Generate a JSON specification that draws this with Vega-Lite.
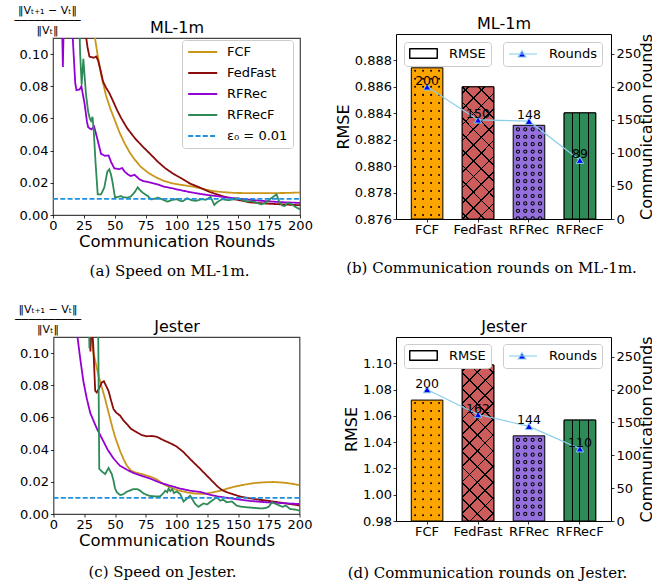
{
"$schema": "https://vega.github.io/schema/vega-lite/v6.json",
"background": "white",
"padding": {"left": 13, "top": 3, "right": 0, "bottom": 0},
"autosize": {"type": "pad"},
"config": {
  "font": "DejaVu Sans",
  "view": {"stroke": "black", "strokeWidth": 1},
  "axis": {"grid": false, "domain": false, "tickColor": "black", "tickSize": 3, "tickWidth": 0.8, "labelFontSize": 13, "labelColor": "black", "labelFont": "DejaVu Sans", "titleFont": "DejaVu Sans", "titleFontSize": 16, "titleFontWeight": "normal", "titleColor": "black", "labelPadding": 2, "titlePadding": 3},
  "title": {"font": "DejaVu Serif", "fontSize": 15, "fontWeight": "normal", "color": "black", "orient": "bottom", "anchor": "middle", "frame": "group"},
  "legend": {"labelFont": "DejaVu Sans", "labelFontSize": 13, "labelColor": "black"}
},
"bounds": "flush",
"center": true,
"columns": 2,
"spacing": {"row": 118, "column": 96},
"concat": [
{
 "title": {"text": "(a) Speed on ML-1m.", "offset": 14, "dx": -7},
 "width": 247, "height": 177,
 "view": {"stroke": "#444", "strokeWidth": 1.2},
 "data": {"values": [
{"model":"FCF","round":30,"speed":0.14},{"model":"FCF","round":33,"speed":0.115},{"model":"FCF","round":36,"speed":0.1},{"model":"FCF","round":39,"speed":0.087},{"model":"FCF","round":43,"speed":0.074},{"model":"FCF","round":46.5,"speed":0.066},{"model":"FCF","round":50,"speed":0.059},{"model":"FCF","round":54,"speed":0.051},{"model":"FCF","round":58,"speed":0.0445},{"model":"FCF","round":62,"speed":0.039},{"model":"FCF","round":66,"speed":0.0346},{"model":"FCF","round":71,"speed":0.03},{"model":"FCF","round":77,"speed":0.0263},{"model":"FCF","round":84,"speed":0.0232},{"model":"FCF","round":90,"speed":0.0211},{"model":"FCF","round":97,"speed":0.0196},{"model":"FCF","round":104,"speed":0.0187},{"model":"FCF","round":112,"speed":0.0178},{"model":"FCF","round":120,"speed":0.0165},{"model":"FCF","round":127,"speed":0.0152},{"model":"FCF","round":135,"speed":0.0144},{"model":"FCF","round":147,"speed":0.0137},{"model":"FCF","round":160,"speed":0.0136},{"model":"FCF","round":175,"speed":0.0136},{"model":"FCF","round":190,"speed":0.0137},{"model":"FCF","round":200,"speed":0.014},
{"model":"FedFast","round":26,"speed":0.115},{"model":"FedFast","round":28,"speed":0.104},{"model":"FedFast","round":29.5,"speed":0.0985},{"model":"FedFast","round":33,"speed":0.0977},{"model":"FedFast","round":35,"speed":0.0985},{"model":"FedFast","round":36.5,"speed":0.096},{"model":"FedFast","round":38.5,"speed":0.09},{"model":"FedFast","round":40.5,"speed":0.083},{"model":"FedFast","round":43,"speed":0.079},{"model":"FedFast","round":45.5,"speed":0.076},{"model":"FedFast","round":48.5,"speed":0.071},{"model":"FedFast","round":52,"speed":0.065},{"model":"FedFast","round":55,"speed":0.0605},{"model":"FedFast","round":60,"speed":0.054},{"model":"FedFast","round":66,"speed":0.048},{"model":"FedFast","round":72,"speed":0.043},{"model":"FedFast","round":79,"speed":0.0377},{"model":"FedFast","round":85,"speed":0.033},{"model":"FedFast","round":91,"speed":0.029},{"model":"FedFast","round":98,"speed":0.0253},{"model":"FedFast","round":104,"speed":0.0228},{"model":"FedFast","round":111,"speed":0.0195},{"model":"FedFast","round":118.5,"speed":0.0172},{"model":"FedFast","round":127,"speed":0.0143},{"model":"FedFast","round":137,"speed":0.0118},{"model":"FedFast","round":147,"speed":0.0098},{"model":"FedFast","round":160,"speed":0.0078},{"model":"FedFast","round":175,"speed":0.007},{"model":"FedFast","round":188,"speed":0.0065},{"model":"FedFast","round":200,"speed":0.0061},
{"model":"RFRec","round":6.5,"speed":0.15},{"model":"RFRec","round":8,"speed":0.092},{"model":"RFRec","round":9.5,"speed":0.15},{"model":"RFRec","round":14,"speed":0.15},{"model":"RFRec","round":16,"speed":0.11},{"model":"RFRec","round":18,"speed":0.082},{"model":"RFRec","round":19,"speed":0.0776},{"model":"RFRec","round":21.5,"speed":0.078},{"model":"RFRec","round":23,"speed":0.08},{"model":"RFRec","round":25.6,"speed":0.069},{"model":"RFRec","round":27.5,"speed":0.058},{"model":"RFRec","round":28.5,"speed":0.0545},{"model":"RFRec","round":31,"speed":0.0532},{"model":"RFRec","round":33.3,"speed":0.055},{"model":"RFRec","round":36,"speed":0.047},{"model":"RFRec","round":38.9,"speed":0.038},{"model":"RFRec","round":42,"speed":0.0368},{"model":"RFRec","round":45,"speed":0.037},{"model":"RFRec","round":47,"speed":0.033},{"model":"RFRec","round":49.6,"speed":0.029},{"model":"RFRec","round":53.7,"speed":0.0285},{"model":"RFRec","round":56,"speed":0.0292},{"model":"RFRec","round":58,"speed":0.027},{"model":"RFRec","round":60.5,"speed":0.0253},{"model":"RFRec","round":63,"speed":0.0242},{"model":"RFRec","round":66,"speed":0.025},{"model":"RFRec","round":70,"speed":0.0222},{"model":"RFRec","round":73,"speed":0.0211},{"model":"RFRec","round":77,"speed":0.0205},{"model":"RFRec","round":84,"speed":0.0192},{"model":"RFRec","round":90,"speed":0.0176},{"model":"RFRec","round":97,"speed":0.0165},{"model":"RFRec","round":104,"speed":0.0153},{"model":"RFRec","round":111,"speed":0.0142},{"model":"RFRec","round":118.5,"speed":0.0132},{"model":"RFRec","round":126,"speed":0.0123},{"model":"RFRec","round":133,"speed":0.0117},{"model":"RFRec","round":140,"speed":0.011},{"model":"RFRec","round":147,"speed":0.0104},{"model":"RFRec","round":160,"speed":0.0094},{"model":"RFRec","round":174,"speed":0.0085},{"model":"RFRec","round":187,"speed":0.0079},{"model":"RFRec","round":200,"speed":0.0075},
{"model":"RFRecF","round":20.5,"speed":0.14},{"model":"RFRecF","round":22,"speed":0.1},{"model":"RFRecF","round":23.2,"speed":0.081},{"model":"RFRecF","round":24.6,"speed":0.097},{"model":"RFRecF","round":26.7,"speed":0.075},{"model":"RFRecF","round":28.5,"speed":0.064},{"model":"RFRecF","round":29.8,"speed":0.06},{"model":"RFRecF","round":30.8,"speed":0.0584},{"model":"RFRecF","round":32,"speed":0.061},{"model":"RFRecF","round":33,"speed":0.052},{"model":"RFRecF","round":34.5,"speed":0.032},{"model":"RFRecF","round":36.2,"speed":0.0128},{"model":"RFRecF","round":38.9,"speed":0.0128},{"model":"RFRecF","round":41.5,"speed":0.017},{"model":"RFRecF","round":44,"speed":0.027},{"model":"RFRecF","round":45.6,"speed":0.0284},{"model":"RFRecF","round":47,"speed":0.025},{"model":"RFRecF","round":48.3,"speed":0.02},{"model":"RFRecF","round":50.2,"speed":0.0108},{"model":"RFRecF","round":52,"speed":0.0112},{"model":"RFRecF","round":55,"speed":0.0118},{"model":"RFRecF","round":57,"speed":0.011},{"model":"RFRecF","round":60.4,"speed":0.0108},{"model":"RFRecF","round":63,"speed":0.0115},{"model":"RFRecF","round":66,"speed":0.014},{"model":"RFRecF","round":68.6,"speed":0.0172},{"model":"RFRecF","round":70,"speed":0.0158},{"model":"RFRecF","round":72.6,"speed":0.0139},{"model":"RFRecF","round":76.7,"speed":0.0118},{"model":"RFRecF","round":79.4,"speed":0.0097},{"model":"RFRecF","round":82,"speed":0.01},{"model":"RFRecF","round":85,"speed":0.0108},{"model":"RFRecF","round":89,"speed":0.0095},{"model":"RFRecF","round":92.8,"speed":0.0083},{"model":"RFRecF","round":96,"speed":0.0092},{"model":"RFRecF","round":100,"speed":0.0099},{"model":"RFRecF","round":103,"speed":0.0088},{"model":"RFRecF","round":105,"speed":0.0085},{"model":"RFRecF","round":108.6,"speed":0.0104},{"model":"RFRecF","round":112,"speed":0.0092},{"model":"RFRecF","round":116,"speed":0.0088},{"model":"RFRecF","round":120,"speed":0.0098},{"model":"RFRecF","round":124,"speed":0.0095},{"model":"RFRecF","round":127.4,"speed":0.0112},{"model":"RFRecF","round":129.3,"speed":0.0085},{"model":"RFRecF","round":130.6,"speed":0.0062},{"model":"RFRecF","round":133,"speed":0.008},{"model":"RFRecF","round":137,"speed":0.0098},{"model":"RFRecF","round":142,"speed":0.0092},{"model":"RFRecF","round":147,"speed":0.0098},{"model":"RFRecF","round":150,"speed":0.0105},{"model":"RFRecF","round":153,"speed":0.0094},{"model":"RFRecF","round":156,"speed":0.0085},{"model":"RFRecF","round":160,"speed":0.0085},{"model":"RFRecF","round":164,"speed":0.008},{"model":"RFRecF","round":168.4,"speed":0.0066},{"model":"RFRecF","round":172,"speed":0.0075},{"model":"RFRecF","round":176,"speed":0.01},{"model":"RFRecF","round":179.2,"speed":0.0118},{"model":"RFRecF","round":181,"speed":0.0128},{"model":"RFRecF","round":183,"speed":0.0085},{"model":"RFRecF","round":185.5,"speed":0.006},{"model":"RFRecF","round":187.6,"speed":0.0056},{"model":"RFRecF","round":190,"speed":0.0075},{"model":"RFRecF","round":193,"speed":0.0068},{"model":"RFRecF","round":196,"speed":0.0052},{"model":"RFRecF","round":200,"speed":0.0035},
{"model":"ε₀ = 0.01","round":0,"speed":0.01},{"model":"ε₀ = 0.01","round":200,"speed":0.01}
 ]},
 "encoding": {
  "y": {"field": "speed", "type": "quantitative", "scale": {"domain": [0, 0.11], "nice": false}, "axis": {"values": [0,0.02,0.04,0.06,0.08,0.1], "format": ".2f", "title": ["‖Vₜ₊₁ − Vₜ‖", "──────────", "‖Vₜ‖"], "titleAngle": 0, "titleAlign": "center", "titleBaseline": "top", "titleX": -6, "titleY": -34, "titleFontSize": 11, "titleLineHeight": 10}},
  "color": {"field": "model", "type": "nominal", "scale": {"domain": ["FCF","FedFast","RFRec","RFRecF","ε₀ = 0.01"], "range": ["#c9961a","#8b0a0a","#9400d3","#2e8b57","#1f90e0"]}, "legend": {"orient": "none", "legendX": 129, "legendY": 6, "title": null, "symbolType": "M-1,0H4", "symbolSize": 135, "symbolStrokeWidth": 2, "labelOffset": 26, "labelFontSize": 13, "rowPadding": 7, "padding": 5, "fillColor": "white", "strokeColor": "#cccccc", "cornerRadius": 3}},
  "strokeDash": {"field": "model", "type": "nominal", "scale": {"domain": ["FCF","FedFast","RFRec","RFRecF","ε₀ = 0.01"], "range": [[1,0],[1,0],[1,0],[1,0],[5,2.3]]}, "legend": {"orient": "none", "legendX": 129, "legendY": 6, "title": null, "symbolType": "M-1,0H4", "symbolSize": 135, "symbolStrokeWidth": 2, "labelOffset": 26, "labelFontSize": 13, "rowPadding": 7, "padding": 5, "fillColor": "white", "strokeColor": "#cccccc", "cornerRadius": 3}}
 },
 "layer": [
  {"transform": [{"filter": "datum.model !== 'ε₀ = 0.01'"}], "mark": {"type": "line", "clip": true, "strokeWidth": 1.8},
   "encoding": {"x": {"field": "round", "type": "quantitative", "scale": {"domain": [0, 200], "nice": false}, "axis": {"values": [0,25,50,75,100,125,150,175,200], "title": "Communication Rounds", "titleFontSize": 16.5, "titlePadding": 1, "labelFlush": false, "labelPadding": 1}}}},
  {"transform": [{"filter": "datum.model === 'ε₀ = 0.01'"}], "mark": {"type": "line", "clip": true, "strokeWidth": 1.6},
   "encoding": {"x": {"field": "round", "type": "quantitative", "scale": {"domain": [0, 200], "nice": false}, "axis": {"orient": "top", "title": "ML-1m", "labels": false, "ticks": false, "domain": false, "titlePadding": 3}}}}
 ],
 "resolve": {"axis": {"x": "independent"}}
},
{
 "title": {"text": "(b) Communication rounds on ML-1m.", "offset": 25, "dx": -12},
 "width": 215, "height": 185,
 "data": {"values": [
  {"model": "FCF", "rmse": 0.88744, "rounds": 200},
  {"model": "FedFast", "rmse": 0.886, "rounds": 150},
  {"model": "RFRec", "rmse": 0.88309, "rounds": 148},
  {"model": "RFRecF", "rmse": 0.88403, "rounds": 89}
 ]},
 "layer": [
  {"encoding": {
    "x": {"field": "model", "type": "nominal", "sort": null, "scale": {"paddingInner": 0.38, "paddingOuter": 0.3}, "axis": {"title": null, "labelAngle": 0, "labelPadding": 1}},
    "y": {"field": "rmse", "type": "quantitative", "scale": {"domain": [0.876, 0.89], "nice": false, "zero": false}, "axis": {"title": "RMSE", "values": [0.876,0.878,0.88,0.882,0.884,0.886,0.888], "format": ".3f", "titlePadding": 3, "labelPadding": 1.5}}, "y2": {"datum": 0.876}},
   "layer": [
    {"mark": {"type": "bar", "strokeWidth": 1}, "encoding": {
      "fill": {"field": "model", "type": "nominal", "scale": {"domain": ["FCF","FedFast","RFRec","RFRecF"], "range": ["#ffa500","#cd5c5c","#9370db","#2e8b57"]}, "legend": null},
      "stroke": {"datum": "RMSE", "scale": {"range": ["black"]}, "legend": {"orient": "none", "legendX": 8, "legendY": 8, "title": null, "symbolType": "M-1,-0.833H3.667V0.833H-1Z M-0.92,-0.753V0.753H3.587V-0.753Z", "symbolSize": 144, "symbolStrokeWidth": 1, "labelOffset": 27, "labelFontSize": 13, "padding": 5, "fillColor": "white", "strokeColor": "#cccccc", "cornerRadius": 3}}
    }},
    {"transform": [{"filter": "datum.model === 'FCF'"}], "mark": {"type": "rule", "xOffset": -12, "color": "black", "strokeWidth": 2, "strokeCap": "round", "strokeDash": [0.01, 8], "strokeDashOffset": 5}},
    {"transform": [{"filter": "datum.model === 'FCF'"}], "mark": {"type": "rule", "xOffset": -4, "color": "black", "strokeWidth": 2, "strokeCap": "round", "strokeDash": [0.01, 8], "strokeDashOffset": 5}},
    {"transform": [{"filter": "datum.model === 'FCF'"}], "mark": {"type": "rule", "xOffset": 4, "color": "black", "strokeWidth": 2, "strokeCap": "round", "strokeDash": [0.01, 8], "strokeDashOffset": 5}},
    {"transform": [{"filter": "datum.model === 'FCF'"}], "mark": {"type": "rule", "xOffset": 12, "color": "black", "strokeWidth": 2, "strokeCap": "round", "strokeDash": [0.01, 8], "strokeDashOffset": 5}},
    {"transform": [{"filter": "datum.model === 'RFRec'"}], "mark": {"type": "rule", "xOffset": -11, "color": "black", "strokeWidth": 4.2, "strokeCap": "round", "strokeDash": [0.01, 7.4], "strokeDashOffset": 3.4}},
    {"transform": [{"filter": "datum.model === 'RFRec'"}], "mark": {"type": "rule", "xOffset": -3.7, "color": "black", "strokeWidth": 4.2, "strokeCap": "round", "strokeDash": [0.01, 7.4], "strokeDashOffset": 3.4}},
    {"transform": [{"filter": "datum.model === 'RFRec'"}], "mark": {"type": "rule", "xOffset": 3.7, "color": "black", "strokeWidth": 4.2, "strokeCap": "round", "strokeDash": [0.01, 7.4], "strokeDashOffset": 3.4}},
    {"transform": [{"filter": "datum.model === 'RFRec'"}], "mark": {"type": "rule", "xOffset": 11, "color": "black", "strokeWidth": 4.2, "strokeCap": "round", "strokeDash": [0.01, 7.4], "strokeDashOffset": 3.4}},
    {"transform": [{"filter": "datum.model === 'RFRec'"}], "mark": {"type": "rule", "xOffset": -11, "color": "#9370db", "strokeWidth": 2.2, "strokeCap": "round", "strokeDash": [0.01, 7.4], "strokeDashOffset": 3.4}},
    {"transform": [{"filter": "datum.model === 'RFRec'"}], "mark": {"type": "rule", "xOffset": -3.7, "color": "#9370db", "strokeWidth": 2.2, "strokeCap": "round", "strokeDash": [0.01, 7.4], "strokeDashOffset": 3.4}},
    {"transform": [{"filter": "datum.model === 'RFRec'"}], "mark": {"type": "rule", "xOffset": 3.7, "color": "#9370db", "strokeWidth": 2.2, "strokeCap": "round", "strokeDash": [0.01, 7.4], "strokeDashOffset": 3.4}},
    {"transform": [{"filter": "datum.model === 'RFRec'"}], "mark": {"type": "rule", "xOffset": 11, "color": "#9370db", "strokeWidth": 2.2, "strokeCap": "round", "strokeDash": [0.01, 7.4], "strokeDashOffset": 3.4}},
    {"transform": [{"filter": "datum.model === 'RFRecF'"}], "mark": {"type": "bar", "stroke": "black", "strokeWidth": 1, "fill": {"gradient": "linear", "x1": 0, "y1": 0, "x2": 1, "y2": 0, "stops": [{"offset":0,"color":"#2e8b57"},{"offset":0.245,"color":"#2e8b57"},{"offset":0.245,"color":"#000000"},{"offset":0.28,"color":"#000000"},{"offset":0.28,"color":"#2e8b57"},{"offset":0.48,"color":"#2e8b57"},{"offset":0.48,"color":"#000000"},{"offset":0.515,"color":"#000000"},{"offset":0.515,"color":"#2e8b57"},{"offset":0.745,"color":"#2e8b57"},{"offset":0.745,"color":"#000000"},{"offset":0.78,"color":"#000000"},{"offset":0.78,"color":"#2e8b57"},{"offset":1,"color":"#2e8b57"}]}}},
    {"transform": [{"filter": "datum.model === 'FedFast'"}], "mark": {"type": "bar", "strokeWidth": 0, "fill": {"gradient": "linear", "x1": 0, "y1": 0, "x2": 0.2823, "y2": 1.1728, "stops": [{"offset":0,"color":"#cd5c5c"},{"offset":0.035,"color":"#cd5c5c"},{"offset":0.035,"color":"#000000"},{"offset":0.045,"color":"#000000"},{"offset":0.045,"color":"#cd5c5c"},{"offset":0.131,"color":"#cd5c5c"},{"offset":0.131,"color":"#000000"},{"offset":0.141,"color":"#000000"},{"offset":0.141,"color":"#cd5c5c"},{"offset":0.227,"color":"#cd5c5c"},{"offset":0.227,"color":"#000000"},{"offset":0.237,"color":"#000000"},{"offset":0.237,"color":"#cd5c5c"},{"offset":0.323,"color":"#cd5c5c"},{"offset":0.323,"color":"#000000"},{"offset":0.333,"color":"#000000"},{"offset":0.333,"color":"#cd5c5c"},{"offset":0.419,"color":"#cd5c5c"},{"offset":0.419,"color":"#000000"},{"offset":0.429,"color":"#000000"},{"offset":0.429,"color":"#cd5c5c"},{"offset":0.515,"color":"#cd5c5c"},{"offset":0.515,"color":"#000000"},{"offset":0.525,"color":"#000000"},{"offset":0.525,"color":"#cd5c5c"},{"offset":0.611,"color":"#cd5c5c"},{"offset":0.611,"color":"#000000"},{"offset":0.621,"color":"#000000"},{"offset":0.621,"color":"#cd5c5c"},{"offset":0.707,"color":"#cd5c5c"},{"offset":0.707,"color":"#000000"},{"offset":0.717,"color":"#000000"},{"offset":0.717,"color":"#cd5c5c"},{"offset":0.803,"color":"#cd5c5c"},{"offset":0.803,"color":"#000000"},{"offset":0.813,"color":"#000000"},{"offset":0.813,"color":"#cd5c5c"},{"offset":0.899,"color":"#cd5c5c"},{"offset":0.899,"color":"#000000"},{"offset":0.909,"color":"#000000"},{"offset":0.909,"color":"#cd5c5c"},{"offset":1,"color":"#cd5c5c"}]}}},
    {"transform": [{"filter": "datum.model === 'FedFast'"}], "mark": {"type": "bar", "stroke": "black", "strokeWidth": 1, "fill": {"gradient": "linear", "x1": 0, "y1": 1, "x2": 0.2823, "y2": -0.1728, "stops": [{"offset":0,"color":"transparent"},{"offset":0.035,"color":"transparent"},{"offset":0.035,"color":"#000000"},{"offset":0.045,"color":"#000000"},{"offset":0.045,"color":"transparent"},{"offset":0.131,"color":"transparent"},{"offset":0.131,"color":"#000000"},{"offset":0.141,"color":"#000000"},{"offset":0.141,"color":"transparent"},{"offset":0.227,"color":"transparent"},{"offset":0.227,"color":"#000000"},{"offset":0.237,"color":"#000000"},{"offset":0.237,"color":"transparent"},{"offset":0.323,"color":"transparent"},{"offset":0.323,"color":"#000000"},{"offset":0.333,"color":"#000000"},{"offset":0.333,"color":"transparent"},{"offset":0.419,"color":"transparent"},{"offset":0.419,"color":"#000000"},{"offset":0.429,"color":"#000000"},{"offset":0.429,"color":"transparent"},{"offset":0.515,"color":"transparent"},{"offset":0.515,"color":"#000000"},{"offset":0.525,"color":"#000000"},{"offset":0.525,"color":"transparent"},{"offset":0.611,"color":"transparent"},{"offset":0.611,"color":"#000000"},{"offset":0.621,"color":"#000000"},{"offset":0.621,"color":"transparent"},{"offset":0.707,"color":"transparent"},{"offset":0.707,"color":"#000000"},{"offset":0.717,"color":"#000000"},{"offset":0.717,"color":"transparent"},{"offset":0.803,"color":"transparent"},{"offset":0.803,"color":"#000000"},{"offset":0.813,"color":"#000000"},{"offset":0.813,"color":"transparent"},{"offset":0.899,"color":"transparent"},{"offset":0.899,"color":"#000000"},{"offset":0.909,"color":"#000000"},{"offset":0.909,"color":"transparent"},{"offset":1,"color":"transparent"}]}}}
   ]},
  {"encoding": {
    "x": {"field": "model", "type": "nominal", "sort": null, "scale": {"paddingInner": 0.38, "paddingOuter": 0.3}, "axis": {"orient": "top", "title": "ML-1m", "labels": false, "ticks": false, "domain": false, "titlePadding": 3}},
    "y": {"field": "rounds", "type": "quantitative", "scale": {"domain": [0, 280], "nice": false}, "axis": {"orient": "right", "title": "Communication rounds", "values": [0,50,100,150,200,250], "titleAngle": 270, "titleBaseline": "top", "titlePadding": -2}}},
   "layer": [
    {"mark": {"type": "line", "strokeWidth": 1.2}, "encoding": {"stroke": {"datum": "Rounds", "scale": {"range": ["#87ceeb"]}, "legend": {"orient": "none", "legendX": 107, "legendY": 8, "title": null, "symbolType": "M-1,0H3.667M1.167,-0.55L1.8,0.5H0.533Z", "symbolSize": 144, "labelOffset": 27, "labelFontSize": 13, "padding": 5, "fillColor": "white", "strokeColor": "#cccccc", "cornerRadius": 3, "encode": {"symbols": {"update": {"fill": {"value": "#0000ff"}, "stroke": {"value": "#87ceeb"}, "strokeWidth": {"value": 1.2}}}}}}}},
    {"mark": {"type": "point", "shape": "triangle-up", "filled": true, "fill": "#0000ff", "stroke": "#87ceeb", "strokeWidth": 1, "size": 55, "opacity": 1}},
    {"mark": {"type": "text", "dy": -2, "baseline": "alphabetic", "fontSize": 12.5, "color": "black"}, "encoding": {"text": {"field": "rounds"}}}
   ]}
 ],
 "resolve": {"scale": {"y": "independent", "stroke": "independent"}, "legend": {"stroke": "independent"}, "axis": {"x": "independent"}}
},
{
 "title": {"text": "(c) Speed on Jester.", "offset": 16, "dx": -14},
 "width": 246, "height": 177,
 "view": {"stroke": "#444", "strokeWidth": 1.2},
 "data": {"values": [
{"model":"FCF","round":29,"speed":0.13},{"model":"FCF","round":31,"speed":0.11},{"model":"FCF","round":32.5,"speed":0.1},{"model":"FCF","round":36.6,"speed":0.086},{"model":"FCF","round":42,"speed":0.0714},{"model":"FCF","round":47.5,"speed":0.0549},{"model":"FCF","round":50,"speed":0.048},{"model":"FCF","round":54.2,"speed":0.039},{"model":"FCF","round":57,"speed":0.034},{"model":"FCF","round":59.7,"speed":0.03},{"model":"FCF","round":63,"speed":0.027},{"model":"FCF","round":66.4,"speed":0.0259},{"model":"FCF","round":72,"speed":0.0248},{"model":"FCF","round":78.6,"speed":0.0232},{"model":"FCF","round":84,"speed":0.0215},{"model":"FCF","round":89.4,"speed":0.0185},{"model":"FCF","round":95,"speed":0.0165},{"model":"FCF","round":101,"speed":0.0148},{"model":"FCF","round":108,"speed":0.0135},{"model":"FCF","round":115,"speed":0.0127},{"model":"FCF","round":122,"speed":0.0125},{"model":"FCF","round":130,"speed":0.0135},{"model":"FCF","round":138,"speed":0.015},{"model":"FCF","round":146,"speed":0.0168},{"model":"FCF","round":155,"speed":0.0182},{"model":"FCF","round":163,"speed":0.0192},{"model":"FCF","round":171,"speed":0.0197},{"model":"FCF","round":179,"speed":0.0199},{"model":"FCF","round":187,"speed":0.0195},{"model":"FCF","round":194,"speed":0.0188},{"model":"FCF","round":200,"speed":0.0179},
{"model":"FedFast","round":29.5,"speed":0.125},{"model":"FedFast","round":30,"speed":0.101},{"model":"FedFast","round":31,"speed":0.12},{"model":"FedFast","round":32.3,"speed":0.105},{"model":"FedFast","round":33.9,"speed":0.0766},{"model":"FedFast","round":35.2,"speed":0.0755},{"model":"FedFast","round":37,"speed":0.078},{"model":"FedFast","round":39.3,"speed":0.0818},{"model":"FedFast","round":41,"speed":0.0825},{"model":"FedFast","round":42.5,"speed":0.08},{"model":"FedFast","round":44.7,"speed":0.0766},{"model":"FedFast","round":47,"speed":0.07},{"model":"FedFast","round":48.8,"speed":0.0652},{"model":"FedFast","round":51,"speed":0.063},{"model":"FedFast","round":54.2,"speed":0.0611},{"model":"FedFast","round":57,"speed":0.058},{"model":"FedFast","round":59.7,"speed":0.0559},{"model":"FedFast","round":63,"speed":0.053},{"model":"FedFast","round":67.8,"speed":0.0507},{"model":"FedFast","round":72,"speed":0.049},{"model":"FedFast","round":75.9,"speed":0.0483},{"model":"FedFast","round":80,"speed":0.0485},{"model":"FedFast","round":84,"speed":0.048},{"model":"FedFast","round":89,"speed":0.046},{"model":"FedFast","round":94.9,"speed":0.044},{"model":"FedFast","round":100,"speed":0.042},{"model":"FedFast","round":105.7,"speed":0.0385},{"model":"FedFast","round":110,"speed":0.035},{"model":"FedFast","round":113.8,"speed":0.0321},{"model":"FedFast","round":118,"speed":0.029},{"model":"FedFast","round":122,"speed":0.0259},{"model":"FedFast","round":126,"speed":0.0228},{"model":"FedFast","round":130,"speed":0.0197},{"model":"FedFast","round":133.5,"speed":0.017},{"model":"FedFast","round":136.9,"speed":0.0149},{"model":"FedFast","round":141,"speed":0.0135},{"model":"FedFast","round":146.3,"speed":0.0122},{"model":"FedFast","round":152,"speed":0.0108},{"model":"FedFast","round":160,"speed":0.0097},{"model":"FedFast","round":168,"speed":0.0088},{"model":"FedFast","round":173.5,"speed":0.0083},{"model":"FedFast","round":180,"speed":0.0076},{"model":"FedFast","round":187,"speed":0.0068},{"model":"FedFast","round":194,"speed":0.006},{"model":"FedFast","round":200,"speed":0.0053},
{"model":"RFRec","round":17,"speed":0.13},{"model":"RFRec","round":19.5,"speed":0.11},{"model":"RFRec","round":22,"speed":0.095},{"model":"RFRec","round":24.4,"speed":0.082},{"model":"RFRec","round":27,"speed":0.072},{"model":"RFRec","round":29.8,"speed":0.063},{"model":"RFRec","round":32.5,"speed":0.058},{"model":"RFRec","round":35.3,"speed":0.053},{"model":"RFRec","round":38,"speed":0.049},{"model":"RFRec","round":40.7,"speed":0.045},{"model":"RFRec","round":44,"speed":0.04},{"model":"RFRec","round":48.8,"speed":0.0345},{"model":"RFRec","round":54,"speed":0.03},{"model":"RFRec","round":59.7,"speed":0.0275},{"model":"RFRec","round":65,"speed":0.0255},{"model":"RFRec","round":70.5,"speed":0.024},{"model":"RFRec","round":78.6,"speed":0.022},{"model":"RFRec","round":86.7,"speed":0.0195},{"model":"RFRec","round":95,"speed":0.0175},{"model":"RFRec","round":103,"speed":0.0158},{"model":"RFRec","round":111,"speed":0.0145},{"model":"RFRec","round":119.3,"speed":0.0137},{"model":"RFRec","round":126,"speed":0.0122},{"model":"RFRec","round":132.8,"speed":0.011},{"model":"RFRec","round":146,"speed":0.0095},{"model":"RFRec","round":160,"speed":0.0081},{"model":"RFRec","round":173,"speed":0.0073},{"model":"RFRec","round":187,"speed":0.0067},{"model":"RFRec","round":200,"speed":0.0062},
{"model":"RFRecF","round":28.6,"speed":0.13},{"model":"RFRecF","round":29.2,"speed":0.103},{"model":"RFRecF","round":29.8,"speed":0.13},{"model":"RFRecF","round":36,"speed":0.15},{"model":"RFRecF","round":37.2,"speed":0.028},{"model":"RFRecF","round":40,"speed":0.026},{"model":"RFRecF","round":42,"speed":0.0248},{"model":"RFRecF","round":44.7,"speed":0.0286},{"model":"RFRecF","round":47.4,"speed":0.0248},{"model":"RFRecF","round":48.8,"speed":0.0207},{"model":"RFRecF","round":50,"speed":0.016},{"model":"RFRecF","round":51.5,"speed":0.0135},{"model":"RFRecF","round":54.2,"speed":0.0118},{"model":"RFRecF","round":57,"speed":0.0124},{"model":"RFRecF","round":59.7,"speed":0.0139},{"model":"RFRecF","round":62.4,"speed":0.0147},{"model":"RFRecF","round":65,"speed":0.0155},{"model":"RFRecF","round":68,"speed":0.0155},{"model":"RFRecF","round":70.5,"speed":0.0145},{"model":"RFRecF","round":73.2,"speed":0.0128},{"model":"RFRecF","round":76,"speed":0.0118},{"model":"RFRecF","round":78.6,"speed":0.0112},{"model":"RFRecF","round":82,"speed":0.011},{"model":"RFRecF","round":86.7,"speed":0.011},{"model":"RFRecF","round":89.4,"speed":0.013},{"model":"RFRecF","round":91,"speed":0.0145},{"model":"RFRecF","round":92.5,"speed":0.0135},{"model":"RFRecF","round":93.5,"speed":0.0158},{"model":"RFRecF","round":95,"speed":0.0142},{"model":"RFRecF","round":96.5,"speed":0.0155},{"model":"RFRecF","round":98,"speed":0.013},{"model":"RFRecF","round":100,"speed":0.014},{"model":"RFRecF","round":103,"speed":0.0124},{"model":"RFRecF","round":105.7,"speed":0.0078},{"model":"RFRecF","round":108.4,"speed":0.0095},{"model":"RFRecF","round":111,"speed":0.0114},{"model":"RFRecF","round":113,"speed":0.009},{"model":"RFRecF","round":115.2,"speed":0.0062},{"model":"RFRecF","round":117.9,"speed":0.0045},{"model":"RFRecF","round":122,"speed":0.0066},{"model":"RFRecF","round":125,"speed":0.006},{"model":"RFRecF","round":128.8,"speed":0.0083},{"model":"RFRecF","round":132.8,"speed":0.0104},{"model":"RFRecF","round":135.5,"speed":0.0083},{"model":"RFRecF","round":138,"speed":0.0088},{"model":"RFRecF","round":141,"speed":0.0073},{"model":"RFRecF","round":145,"speed":0.0078},{"model":"RFRecF","round":149,"speed":0.0052},{"model":"RFRecF","round":153,"speed":0.0045},{"model":"RFRecF","round":157,"speed":0.0042},{"model":"RFRecF","round":163,"speed":0.0038},{"model":"RFRecF","round":168,"speed":0.0035},{"model":"RFRecF","round":172,"speed":0.0036},{"model":"RFRecF","round":175,"speed":0.0045},{"model":"RFRecF","round":177.5,"speed":0.0073},{"model":"RFRecF","round":180,"speed":0.0065},{"model":"RFRecF","round":183,"speed":0.0055},{"model":"RFRecF","round":186,"speed":0.0045},{"model":"RFRecF","round":189,"speed":0.0052},{"model":"RFRecF","round":192.4,"speed":0.0031},{"model":"RFRecF","round":196,"speed":0.0028},{"model":"RFRecF","round":200,"speed":0.0021},
{"model":"ε₀ = 0.01","round":0,"speed":0.01},{"model":"ε₀ = 0.01","round":200,"speed":0.01}
 ]},
 "encoding": {
  "y": {"field": "speed", "type": "quantitative", "scale": {"domain": [0, 0.11], "nice": false}, "axis": {"values": [0,0.02,0.04,0.06,0.08,0.1], "format": ".2f", "title": ["‖Vₜ₊₁ − Vₜ‖", "──────────", "‖Vₜ‖"], "titleAngle": 0, "titleAlign": "center", "titleBaseline": "top", "titleX": -6, "titleY": -34, "titleFontSize": 11, "titleLineHeight": 10}},
  "color": {"field": "model", "type": "nominal", "scale": {"domain": ["FCF","FedFast","RFRec","RFRecF","ε₀ = 0.01"], "range": ["#c9961a","#8b0a0a","#9400d3","#2e8b57","#1f90e0"]}, "legend": {"orient": "none", "legendX": 128, "legendY": 7, "title": null, "symbolType": "M-1,0H4", "symbolSize": 135, "symbolStrokeWidth": 2, "labelOffset": 26, "labelFontSize": 13, "rowPadding": 7, "padding": 5, "fillColor": "white", "strokeColor": "#cccccc", "cornerRadius": 3}},
  "strokeDash": {"field": "model", "type": "nominal", "scale": {"domain": ["FCF","FedFast","RFRec","RFRecF","ε₀ = 0.01"], "range": [[1,0],[1,0],[1,0],[1,0],[5,2.3]]}, "legend": {"orient": "none", "legendX": 128, "legendY": 7, "title": null, "symbolType": "M-1,0H4", "symbolSize": 135, "symbolStrokeWidth": 2, "labelOffset": 26, "labelFontSize": 13, "rowPadding": 7, "padding": 5, "fillColor": "white", "strokeColor": "#cccccc", "cornerRadius": 3}}
 },
 "layer": [
  {"transform": [{"filter": "datum.model !== 'ε₀ = 0.01'"}], "mark": {"type": "line", "clip": true, "strokeWidth": 1.8},
   "encoding": {"x": {"field": "round", "type": "quantitative", "scale": {"domain": [0, 200], "nice": false}, "axis": {"values": [0,25,50,75,100,125,150,175,200], "title": "Communication Rounds", "titleFontSize": 16.5, "titlePadding": 1, "labelFlush": false, "labelPadding": 1}}}},
  {"transform": [{"filter": "datum.model === 'ε₀ = 0.01'"}], "mark": {"type": "line", "clip": true, "strokeWidth": 1.6},
   "encoding": {"x": {"field": "round", "type": "quantitative", "scale": {"domain": [0, 200], "nice": false}, "axis": {"orient": "top", "title": "Jester", "labels": false, "ticks": false, "domain": false, "titlePadding": 3}}}}
 ],
 "resolve": {"axis": {"x": "independent"}}
},
{
 "title": {"text": "(d) Communication rounds on Jester.", "offset": 28, "dx": -16},
 "width": 215, "height": 184,
 "data": {"values": [
  {"model": "FCF", "rmse": 1.072, "rounds": 200},
  {"model": "FedFast", "rmse": 1.0987, "rounds": 162},
  {"model": "RFRec", "rmse": 1.0448, "rounds": 144},
  {"model": "RFRecF", "rmse": 1.0568, "rounds": 110}
 ]},
 "layer": [
  {"encoding": {
    "x": {"field": "model", "type": "nominal", "sort": null, "scale": {"paddingInner": 0.38, "paddingOuter": 0.3}, "axis": {"title": null, "labelAngle": 0, "labelPadding": 1}},
    "y": {"field": "rmse", "type": "quantitative", "scale": {"domain": [0.98, 1.12], "nice": false, "zero": false}, "axis": {"title": "RMSE", "values": [0.98,1.0,1.02,1.04,1.06,1.08,1.1], "format": ".2f", "titlePadding": 3, "labelPadding": 1.5}}, "y2": {"datum": 0.98}},
   "layer": [
    {"mark": {"type": "bar", "strokeWidth": 1}, "encoding": {
      "fill": {"field": "model", "type": "nominal", "scale": {"domain": ["FCF","FedFast","RFRec","RFRecF"], "range": ["#ffa500","#cd5c5c","#9370db","#2e8b57"]}, "legend": null},
      "stroke": {"datum": "RMSE", "scale": {"range": ["black"]}, "legend": {"orient": "none", "legendX": 8, "legendY": 7, "title": null, "symbolType": "M-1,-0.833H3.667V0.833H-1Z M-0.92,-0.753V0.753H3.587V-0.753Z", "symbolSize": 144, "symbolStrokeWidth": 1, "labelOffset": 27, "labelFontSize": 13, "padding": 5, "fillColor": "white", "strokeColor": "#cccccc", "cornerRadius": 3}}
    }},
    {"transform": [{"filter": "datum.model === 'FCF'"}], "mark": {"type": "rule", "xOffset": -12, "color": "black", "strokeWidth": 2, "strokeCap": "round", "strokeDash": [0.01, 8], "strokeDashOffset": 5}},
    {"transform": [{"filter": "datum.model === 'FCF'"}], "mark": {"type": "rule", "xOffset": -4, "color": "black", "strokeWidth": 2, "strokeCap": "round", "strokeDash": [0.01, 8], "strokeDashOffset": 5}},
    {"transform": [{"filter": "datum.model === 'FCF'"}], "mark": {"type": "rule", "xOffset": 4, "color": "black", "strokeWidth": 2, "strokeCap": "round", "strokeDash": [0.01, 8], "strokeDashOffset": 5}},
    {"transform": [{"filter": "datum.model === 'FCF'"}], "mark": {"type": "rule", "xOffset": 12, "color": "black", "strokeWidth": 2, "strokeCap": "round", "strokeDash": [0.01, 8], "strokeDashOffset": 5}},
    {"transform": [{"filter": "datum.model === 'RFRec'"}], "mark": {"type": "rule", "xOffset": -11, "color": "black", "strokeWidth": 4.2, "strokeCap": "round", "strokeDash": [0.01, 7.4], "strokeDashOffset": 3.4}},
    {"transform": [{"filter": "datum.model === 'RFRec'"}], "mark": {"type": "rule", "xOffset": -3.7, "color": "black", "strokeWidth": 4.2, "strokeCap": "round", "strokeDash": [0.01, 7.4], "strokeDashOffset": 3.4}},
    {"transform": [{"filter": "datum.model === 'RFRec'"}], "mark": {"type": "rule", "xOffset": 3.7, "color": "black", "strokeWidth": 4.2, "strokeCap": "round", "strokeDash": [0.01, 7.4], "strokeDashOffset": 3.4}},
    {"transform": [{"filter": "datum.model === 'RFRec'"}], "mark": {"type": "rule", "xOffset": 11, "color": "black", "strokeWidth": 4.2, "strokeCap": "round", "strokeDash": [0.01, 7.4], "strokeDashOffset": 3.4}},
    {"transform": [{"filter": "datum.model === 'RFRec'"}], "mark": {"type": "rule", "xOffset": -11, "color": "#9370db", "strokeWidth": 2.2, "strokeCap": "round", "strokeDash": [0.01, 7.4], "strokeDashOffset": 3.4}},
    {"transform": [{"filter": "datum.model === 'RFRec'"}], "mark": {"type": "rule", "xOffset": -3.7, "color": "#9370db", "strokeWidth": 2.2, "strokeCap": "round", "strokeDash": [0.01, 7.4], "strokeDashOffset": 3.4}},
    {"transform": [{"filter": "datum.model === 'RFRec'"}], "mark": {"type": "rule", "xOffset": 3.7, "color": "#9370db", "strokeWidth": 2.2, "strokeCap": "round", "strokeDash": [0.01, 7.4], "strokeDashOffset": 3.4}},
    {"transform": [{"filter": "datum.model === 'RFRec'"}], "mark": {"type": "rule", "xOffset": 11, "color": "#9370db", "strokeWidth": 2.2, "strokeCap": "round", "strokeDash": [0.01, 7.4], "strokeDashOffset": 3.4}},
    {"transform": [{"filter": "datum.model === 'RFRecF'"}], "mark": {"type": "bar", "stroke": "black", "strokeWidth": 1, "fill": {"gradient": "linear", "x1": 0, "y1": 0, "x2": 1, "y2": 0, "stops": [{"offset":0,"color":"#2e8b57"},{"offset":0.245,"color":"#2e8b57"},{"offset":0.245,"color":"#000000"},{"offset":0.28,"color":"#000000"},{"offset":0.28,"color":"#2e8b57"},{"offset":0.48,"color":"#2e8b57"},{"offset":0.48,"color":"#000000"},{"offset":0.515,"color":"#000000"},{"offset":0.515,"color":"#2e8b57"},{"offset":0.745,"color":"#2e8b57"},{"offset":0.745,"color":"#000000"},{"offset":0.78,"color":"#000000"},{"offset":0.78,"color":"#2e8b57"},{"offset":1,"color":"#2e8b57"}]}}},
    {"transform": [{"filter": "datum.model === 'FedFast'"}], "mark": {"type": "bar", "strokeWidth": 0, "fill": {"gradient": "linear", "x1": 0, "y1": 0, "x2": 0.2353, "y2": 1.1558, "stops": [{"offset":0,"color":"#cd5c5c"},{"offset":0.0305,"color":"#cd5c5c"},{"offset":0.0305,"color":"#000000"},{"offset":0.0395,"color":"#000000"},{"offset":0.0395,"color":"#cd5c5c"},{"offset":0.1145,"color":"#cd5c5c"},{"offset":0.1145,"color":"#000000"},{"offset":0.1235,"color":"#000000"},{"offset":0.1235,"color":"#cd5c5c"},{"offset":0.1985,"color":"#cd5c5c"},{"offset":0.1985,"color":"#000000"},{"offset":0.2075,"color":"#000000"},{"offset":0.2075,"color":"#cd5c5c"},{"offset":0.2815,"color":"#cd5c5c"},{"offset":0.2815,"color":"#000000"},{"offset":0.2905,"color":"#000000"},{"offset":0.2905,"color":"#cd5c5c"},{"offset":0.3655,"color":"#cd5c5c"},{"offset":0.3655,"color":"#000000"},{"offset":0.3745,"color":"#000000"},{"offset":0.3745,"color":"#cd5c5c"},{"offset":0.4495,"color":"#cd5c5c"},{"offset":0.4495,"color":"#000000"},{"offset":0.4585,"color":"#000000"},{"offset":0.4585,"color":"#cd5c5c"},{"offset":0.5335,"color":"#cd5c5c"},{"offset":0.5335,"color":"#000000"},{"offset":0.5425,"color":"#000000"},{"offset":0.5425,"color":"#cd5c5c"},{"offset":0.6175,"color":"#cd5c5c"},{"offset":0.6175,"color":"#000000"},{"offset":0.6265,"color":"#000000"},{"offset":0.6265,"color":"#cd5c5c"},{"offset":0.7005,"color":"#cd5c5c"},{"offset":0.7005,"color":"#000000"},{"offset":0.7095,"color":"#000000"},{"offset":0.7095,"color":"#cd5c5c"},{"offset":0.7845,"color":"#cd5c5c"},{"offset":0.7845,"color":"#000000"},{"offset":0.7935,"color":"#000000"},{"offset":0.7935,"color":"#cd5c5c"},{"offset":0.8685,"color":"#cd5c5c"},{"offset":0.8685,"color":"#000000"},{"offset":0.8775,"color":"#000000"},{"offset":0.8775,"color":"#cd5c5c"},{"offset":0.9525,"color":"#cd5c5c"},{"offset":0.9525,"color":"#000000"},{"offset":0.9615,"color":"#000000"},{"offset":0.9615,"color":"#cd5c5c"},{"offset":1,"color":"#cd5c5c"}]}}},
    {"transform": [{"filter": "datum.model === 'FedFast'"}], "mark": {"type": "bar", "stroke": "black", "strokeWidth": 1, "fill": {"gradient": "linear", "x1": 0, "y1": 1, "x2": 0.2353, "y2": -0.1558, "stops": [{"offset":0,"color":"transparent"},{"offset":0.0305,"color":"transparent"},{"offset":0.0305,"color":"#000000"},{"offset":0.0395,"color":"#000000"},{"offset":0.0395,"color":"transparent"},{"offset":0.1145,"color":"transparent"},{"offset":0.1145,"color":"#000000"},{"offset":0.1235,"color":"#000000"},{"offset":0.1235,"color":"transparent"},{"offset":0.1985,"color":"transparent"},{"offset":0.1985,"color":"#000000"},{"offset":0.2075,"color":"#000000"},{"offset":0.2075,"color":"transparent"},{"offset":0.2815,"color":"transparent"},{"offset":0.2815,"color":"#000000"},{"offset":0.2905,"color":"#000000"},{"offset":0.2905,"color":"transparent"},{"offset":0.3655,"color":"transparent"},{"offset":0.3655,"color":"#000000"},{"offset":0.3745,"color":"#000000"},{"offset":0.3745,"color":"transparent"},{"offset":0.4495,"color":"transparent"},{"offset":0.4495,"color":"#000000"},{"offset":0.4585,"color":"#000000"},{"offset":0.4585,"color":"transparent"},{"offset":0.5335,"color":"transparent"},{"offset":0.5335,"color":"#000000"},{"offset":0.5425,"color":"#000000"},{"offset":0.5425,"color":"transparent"},{"offset":0.6175,"color":"transparent"},{"offset":0.6175,"color":"#000000"},{"offset":0.6265,"color":"#000000"},{"offset":0.6265,"color":"transparent"},{"offset":0.7005,"color":"transparent"},{"offset":0.7005,"color":"#000000"},{"offset":0.7095,"color":"#000000"},{"offset":0.7095,"color":"transparent"},{"offset":0.7845,"color":"transparent"},{"offset":0.7845,"color":"#000000"},{"offset":0.7935,"color":"#000000"},{"offset":0.7935,"color":"transparent"},{"offset":0.8685,"color":"transparent"},{"offset":0.8685,"color":"#000000"},{"offset":0.8775,"color":"#000000"},{"offset":0.8775,"color":"transparent"},{"offset":0.9525,"color":"transparent"},{"offset":0.9525,"color":"#000000"},{"offset":0.9615,"color":"#000000"},{"offset":0.9615,"color":"transparent"},{"offset":1,"color":"transparent"}]}}}
   ]},
  {"encoding": {
    "x": {"field": "model", "type": "nominal", "sort": null, "scale": {"paddingInner": 0.38, "paddingOuter": 0.3}, "axis": {"orient": "top", "title": "Jester", "labels": false, "ticks": false, "domain": false, "titlePadding": 3}},
    "y": {"field": "rounds", "type": "quantitative", "scale": {"domain": [0, 280], "nice": false}, "axis": {"orient": "right", "title": "Communication rounds", "values": [0,50,100,150,200,250], "titleAngle": 270, "titleBaseline": "top", "titlePadding": -2}}},
   "layer": [
    {"mark": {"type": "line", "strokeWidth": 1.2}, "encoding": {"stroke": {"datum": "Rounds", "scale": {"range": ["#87ceeb"]}, "legend": {"orient": "none", "legendX": 107, "legendY": 7, "title": null, "symbolType": "M-1,0H3.667M1.167,-0.55L1.8,0.5H0.533Z", "symbolSize": 144, "labelOffset": 27, "labelFontSize": 13, "padding": 5, "fillColor": "white", "strokeColor": "#cccccc", "cornerRadius": 3, "encode": {"symbols": {"update": {"fill": {"value": "#0000ff"}, "stroke": {"value": "#87ceeb"}, "strokeWidth": {"value": 1.2}}}}}}}},
    {"mark": {"type": "point", "shape": "triangle-up", "filled": true, "fill": "#0000ff", "stroke": "#87ceeb", "strokeWidth": 1, "size": 55, "opacity": 1}},
    {"mark": {"type": "text", "dy": -2, "baseline": "alphabetic", "fontSize": 12.5, "color": "black"}, "encoding": {"text": {"field": "rounds"}}}
   ]}
 ],
 "resolve": {"scale": {"y": "independent", "stroke": "independent"}, "legend": {"stroke": "independent"}, "axis": {"x": "independent"}}
}
]
}
